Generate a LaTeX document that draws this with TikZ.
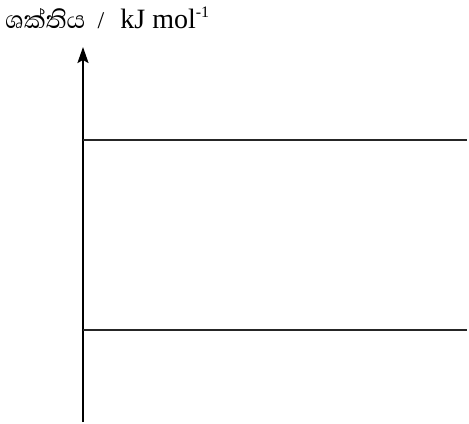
\documentclass[tikz,border=0pt]{standalone}
\usepackage{fontspec}
\setmainfont{Liberation Serif}
\newfontfamily\sinhalafont[Script=Sinhala]{Abhaya Libre}
\usetikzlibrary{arrows.meta,positioning}

\begin{document}
\begin{tikzpicture}[x=0.5pt,y=-0.5pt,line width=1.1pt,every node/.style={font=\fontsize{14}{16}\selectfont,inner sep=0pt}]
  \useasboundingbox (0,0) rectangle (469,423);
  \coordinate (origin) at (83,422);
  \coordinate (top) at (83,47);
  \draw[-{Stealth[length=8pt,width=5.5pt,inset=1.5pt]}] (origin) -- (top);
  \foreach \y/\name in {140/high,330/low} {
    \coordinate (\name-l) at (83,\y);
    \coordinate (\name-r) at (467,\y);
    \draw[draw=black!85] (\name-l) -- (\name-r);
  }
  \node[anchor=base west,font=\fontsize{15.5}{17}\sinhalafont] (energy) at (4,28) {ශක්තිය};
  \node[right=5pt of energy.base east,anchor=base west,font=\fontsize{12}{14}\selectfont] (slash) {/};
  \node[right=7pt of slash.base east,anchor=base west] (unit) {kJ mol\raisebox{0.8ex}{\fontsize{8}{9}\selectfont -1}};
\end{tikzpicture}
\end{document}
